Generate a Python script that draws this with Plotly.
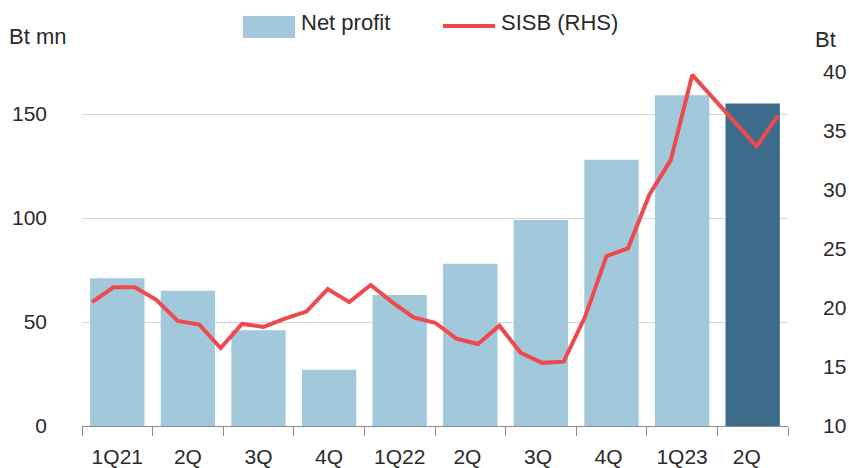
import plotly.graph_objects as go

# ---- data ----
quarters = ["1Q21", "2Q", "3Q", "4Q", "1Q22", "2Q ", "3Q ", "4Q ", "1Q23", "2Q  "]
net_profit = [71, 65, 46, 27, 63, 78, 99, 128, 159, 155]
bar_colors = ["#A2C8DC"] * 9 + ["#3D6C8A"]
sisb_price = [20.5, 21.75, 21.75, 20.7, 18.9, 18.6, 16.6, 18.65, 18.4, 19.1, 19.7,
              21.6, 20.5, 21.95, 20.5, 19.2, 18.75, 17.4, 16.95, 18.5, 16.2, 15.35,
              15.45, 19.25, 24.4, 25.05, 29.6, 32.55, 39.75, 37.75, 35.7, 33.7, 36.3]
sisb_idx = list(range(len(sisb_price)))

# ---- layout geometry (pixels) ----
W, H = 849, 468
L, R, T, B = 82, 788, 72, 426

def px(x):
    return (x - L) / (R - L)

def py(y):
    return (B - y) / (B - T)

FONT = "Liberation Sans, Arial, sans-serif"
TXT = "#2a2a2a"
RED = "#EE4A4E"

fig = go.Figure()
fig.add_trace(go.Bar(x=quarters, y=net_profit, marker=dict(color=bar_colors, line=dict(width=0)),
                     width=0.77, name="Net profit", showlegend=False))
fig.add_trace(go.Scatter(x=sisb_idx, y=sisb_price, mode="lines", xaxis="x2", yaxis="y2",
                         line=dict(color=RED, width=4), name="SISB (RHS)", showlegend=False))

# line x-scale: first point 10px inside left edge, last 10px inside right edge
n = len(sisb_price) - 1
unit = ((R - 10) - (L + 10)) / n
pad = 10 / unit

fig.update_layout(
    width=W, height=H,
    margin=dict(l=L, r=W - R, t=T, b=H - B, autoexpand=False),
    plot_bgcolor="white", paper_bgcolor="white",
    font=dict(family=FONT, size=21, color=TXT),
    showlegend=False,
    xaxis=dict(type="category", showline=True, linecolor="#8C8C8C", linewidth=1,
               ticks="outside", tickson="boundaries", ticklen=9, tickcolor="#8C8C8C",
               showgrid=False, ticklabelstandoff=12, automargin=False,
               tickfont=dict(size=21, color=TXT)),
    xaxis2=dict(overlaying="x", range=[-pad, n + pad], visible=False, automargin=False),
    yaxis=dict(range=[0, 170.2], tickvals=[0, 50, 100, 150], showgrid=True,
               gridcolor="#D9D9D9", gridwidth=1, zeroline=False, showline=False,
               ticks="", ticklabelstandoff=34, automargin=False,
               tickfont=dict(size=21, color=TXT)),
    yaxis2=dict(overlaying="y", side="right", range=[10, 40], tickvals=[10, 15, 20, 25, 30, 35, 40],
                showgrid=False, zeroline=False, showline=False, ticks="",
                ticklabelstandoff=34, automargin=False, tickfont=dict(size=21, color=TXT)),
)

# custom legend
fig.add_shape(type="rect", xref="paper", yref="paper",
              x0=px(243), x1=px(295), y0=py(38), y1=py(16),
              fillcolor="#A2C8DC", line=dict(width=0))
fig.add_annotation(xref="paper", yref="paper", x=px(299), y=py(22), text="Net profit",
                   showarrow=False, xanchor="left", yanchor="middle",
                   font=dict(size=22, color=TXT))
fig.add_shape(type="line", xref="paper", yref="paper",
              x0=px(443), x1=px(495), y0=py(26), y1=py(26),
              line=dict(color=RED, width=4))
fig.add_annotation(xref="paper", yref="paper", x=px(499), y=py(22), text="SISB (RHS)",
                   showarrow=False, xanchor="left", yanchor="middle",
                   font=dict(size=22, color=TXT))

# axis titles
fig.add_annotation(xref="paper", yref="paper", x=px(7), y=py(36), text="Bt mn",
                   showarrow=False, xanchor="left", yanchor="middle",
                   font=dict(size=22, color=TXT))
fig.add_annotation(xref="paper", yref="paper", x=px(813), y=py(39), text="Bt",
                   showarrow=False, xanchor="left", yanchor="middle",
                   font=dict(size=22, color=TXT))

fig.write_html("out.html", config={"displayModeBar": False},
               post_script="document.body.style.margin='0';document.body.style.overflow='hidden';")
